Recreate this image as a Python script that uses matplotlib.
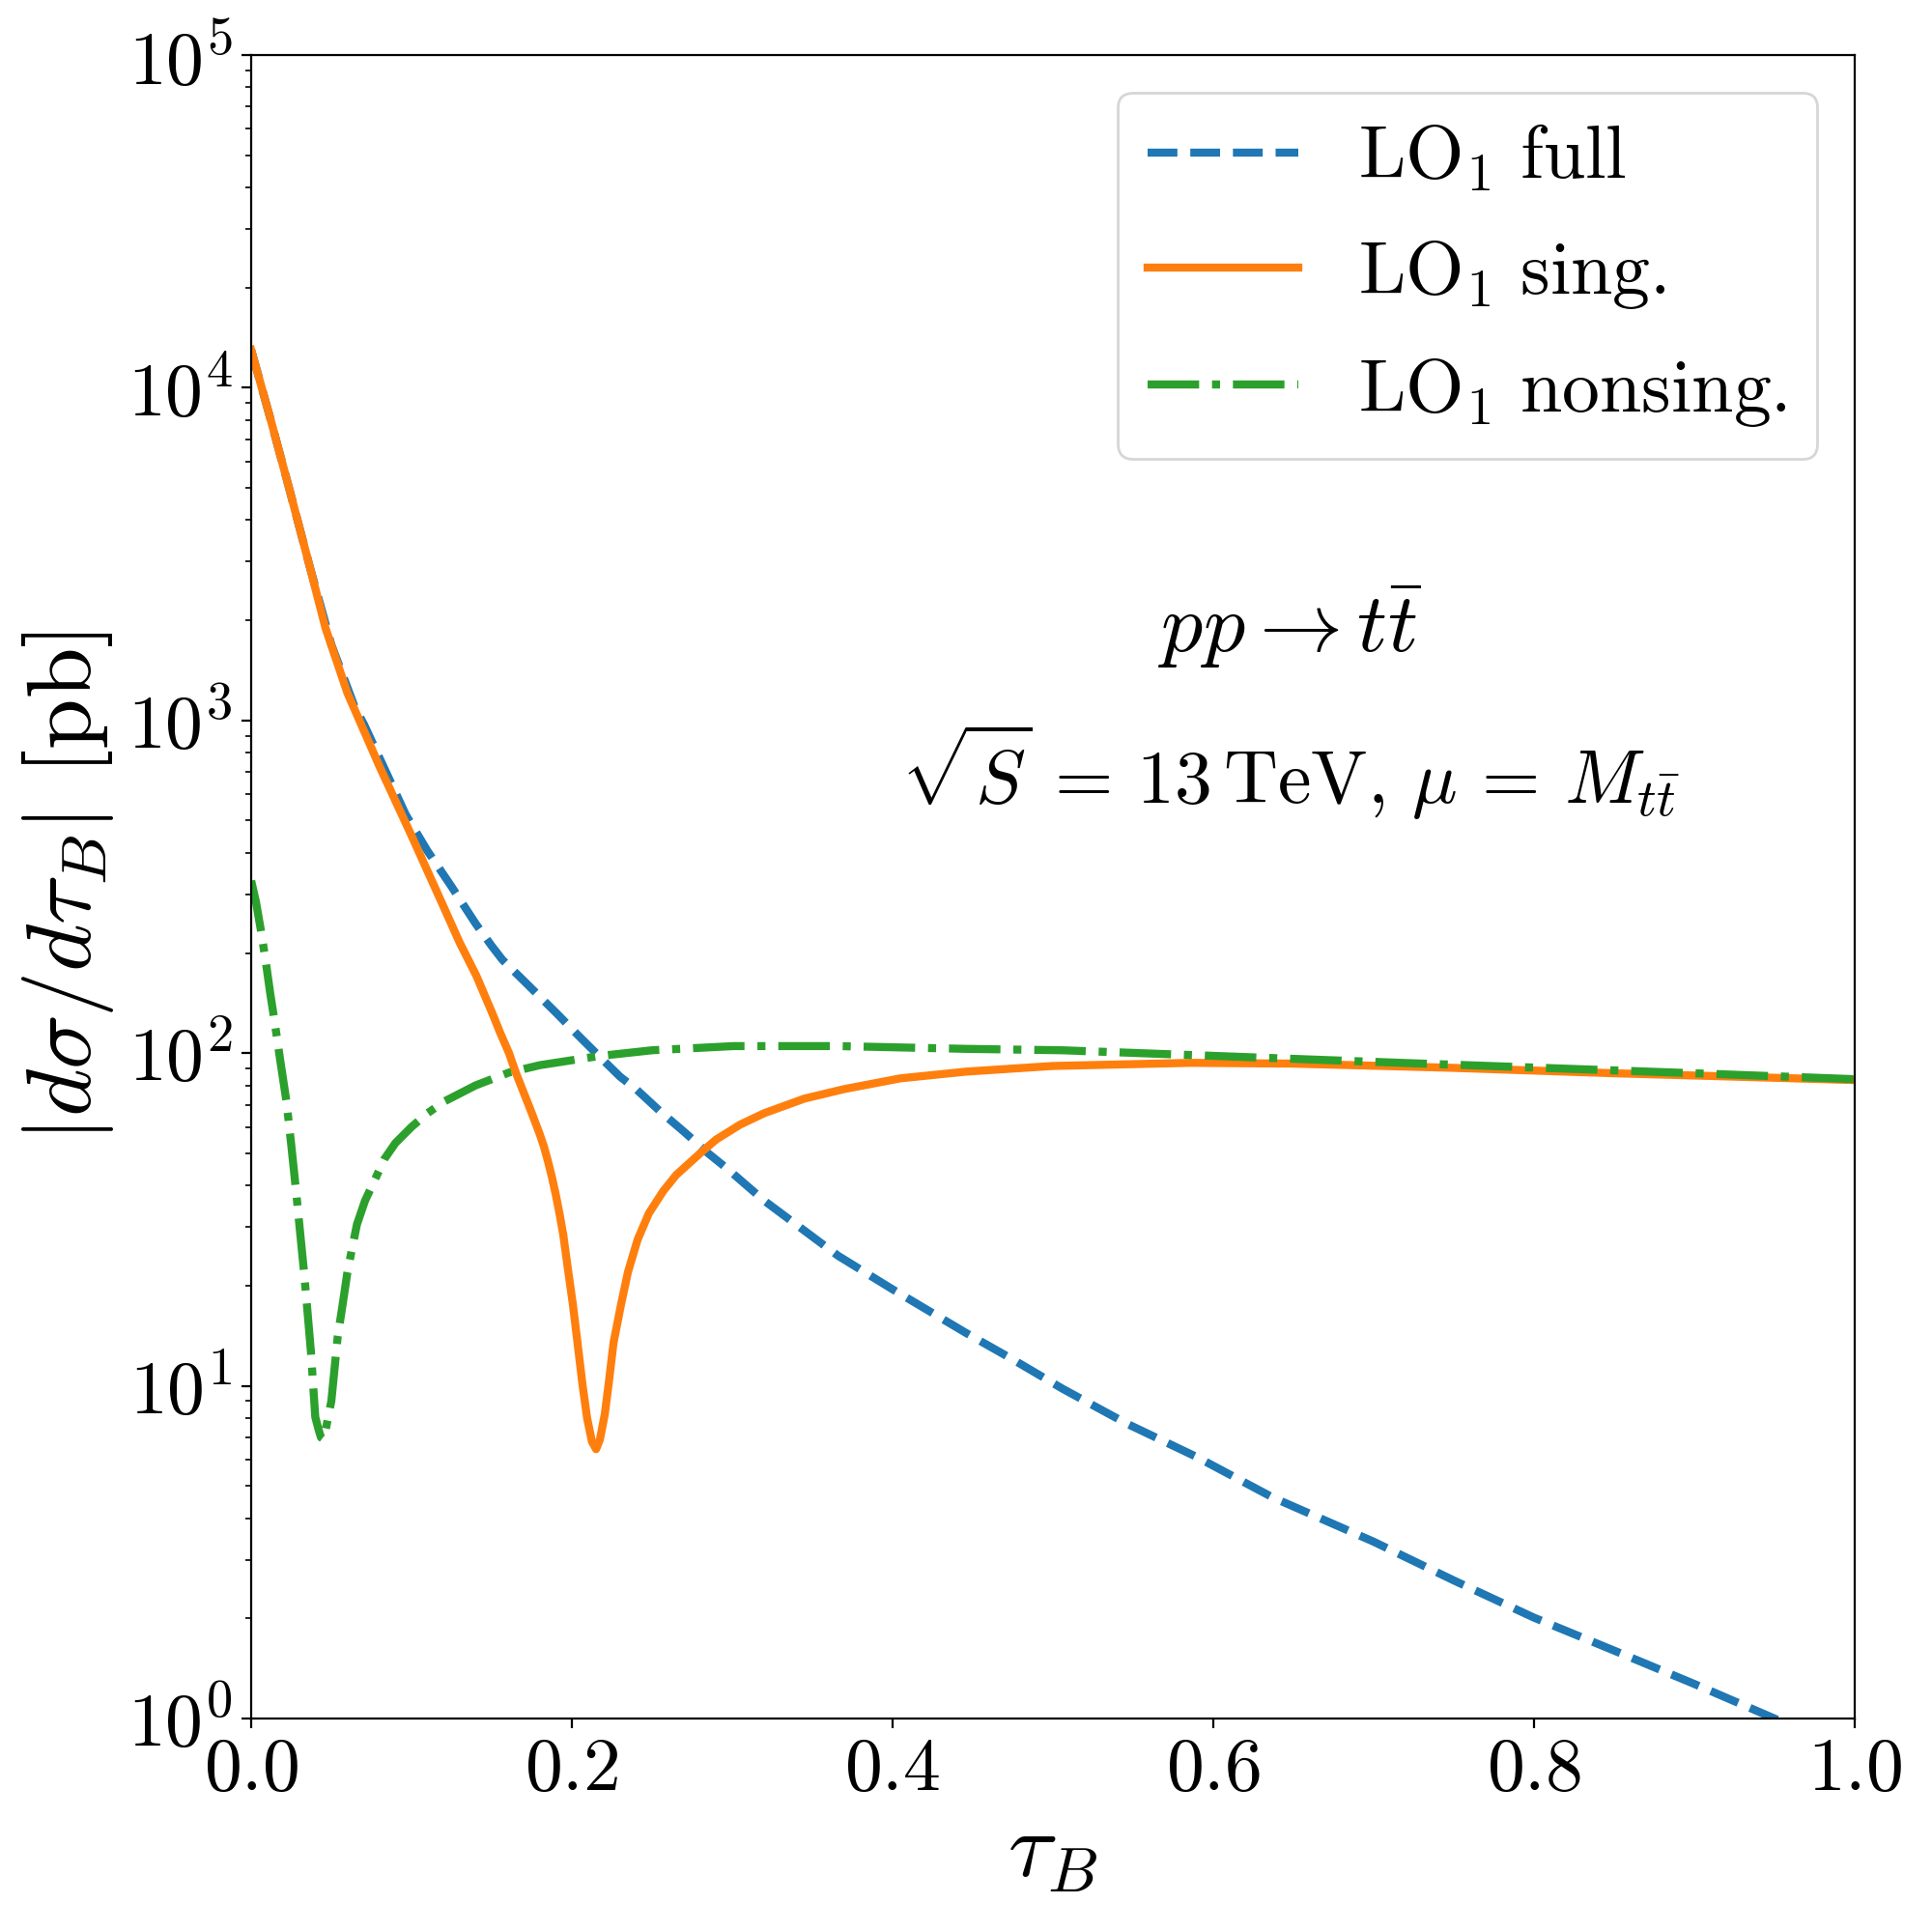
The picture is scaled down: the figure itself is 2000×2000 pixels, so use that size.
import numpy as np
import matplotlib
matplotlib.use("Agg")
import matplotlib.pyplot as plt

plt.rcParams['font.family'] = 'serif'
plt.rcParams['font.serif'] = ['cmr10']
plt.rcParams['mathtext.fontset'] = 'cm'
plt.rcParams['axes.formatter.use_mathtext'] = True

# ------------------ Data ------------------
tau_full = [0.0, 0.012, 0.024, 0.036, 0.050, 0.0645, 0.0705, 0.0964, 0.11, 0.1247,
            0.14, 0.15, 0.1566, 0.17, 0.191, 0.2048, 0.2169, 0.23, 0.24, 0.2548,
            0.27, 0.285, 0.297, 0.32, 0.366, 0.40, 0.446, 0.475, 0.506, 0.546,
            0.59, 0.637, 0.7, 0.75, 0.8, 0.85, 0.9, 0.95, 1.0]
lo1_full = [13000, 8070, 4920, 2965, 1690, 1100, 970, 521, 405, 318,
            245, 210, 191, 165, 131, 112, 98, 85, 78, 67,
            58, 50, 44.9, 36, 24.6, 19.5, 14.4, 12, 9.8, 7.7,
            6.1, 4.62, 3.4, 2.6, 2.01, 1.6, 1.27, 1.0, 0.78]

tau_sing = [0.0, 0.012, 0.024, 0.036, 0.0464, 0.060, 0.080, 0.1006, 0.1205, 0.13,
            0.1404, 0.1506, 0.155, 0.1608, 0.165, 0.170, 0.175, 0.18, 0.1825, 0.185,
            0.1875, 0.19, 0.1925, 0.1946, 0.1975, 0.2006, 0.2035, 0.2066, 0.2095,
            0.2125, 0.2151, 0.2175, 0.2205, 0.2229, 0.226, 0.2307, 0.235, 0.241,
            0.248, 0.257, 0.265, 0.281, 0.29, 0.305, 0.32, 0.345, 0.37, 0.405,
            0.446, 0.5, 0.586, 0.65, 0.747, 0.85, 1.0]
lo1_sing = [13000, 8070, 4920, 2965, 1893, 1210, 728, 444, 272, 215,
            171, 131, 116, 100, 87.5, 76, 66, 57, 52.5, 47.5,
            42.5, 37.5, 32.5, 28.5, 22.5, 17.6, 13.5, 10.1, 8.0,
            6.8, 6.45, 6.9, 8.2, 10.1, 13.5, 17.6, 22, 27.5,
            33, 38.5, 43, 50.5, 55, 61, 66, 73, 78, 84,
            88, 91.5, 93.5, 93, 90.4, 87, 83]

tau_nons = [0.0, 0.003, 0.006, 0.009, 0.012, 0.0139, 0.016, 0.018, 0.022, 0.025,
            0.028, 0.0305, 0.033, 0.035, 0.0373, 0.0385, 0.040, 0.042, 0.0435, 0.0452,
            0.047, 0.050, 0.054, 0.057, 0.060, 0.063, 0.066, 0.071, 0.0765, 0.083,
            0.090, 0.1, 0.11, 0.1205, 0.14, 0.161, 0.18, 0.2169, 0.25, 0.301,
            0.366, 0.446, 0.506, 0.586, 0.717, 0.8, 0.9, 1.0]
lo1_nons = [330, 285, 235, 190, 150, 131, 112, 96, 71.6, 53,
            38.5, 29, 21.9, 17, 12.6, 10.3, 8.05, 7.4, 7.0, 6.9,
            7.6, 9.0, 14.1, 17.5, 21.9, 26, 30.6, 36, 41, 48,
            53.7, 60, 66, 71.6, 80, 87.5, 92, 98, 102, 105,
            105, 103, 102, 98.7, 93.5, 90.5, 87, 83.5]

labels = [r'$\mathrm{LO}_1\ \mathrm{full}$', r'$\mathrm{LO}_1\ \mathrm{sing.}$',
          r'$\mathrm{LO}_1\ \mathrm{nonsing.}$']

# ------------------ Plot ------------------
fig = plt.figure(figsize=(10, 10), dpi=200)
ax = fig.add_axes([0.13, 0.1105, 0.83, 0.861])

ax.plot(tau_full, lo1_full, '--', color='#1f77b4', lw=3, label=labels[0])
ax.plot(tau_sing, lo1_sing, '-', color='#ff7f0e', lw=3, label=labels[1])
ax.plot(tau_nons, lo1_nons, '-.', color='#2ca02c', lw=3, label=labels[2])

ax.set_yscale('log')
ax.set_xlim(0, 1)
ax.set_ylim(1, 1e5)
ax.set_xticks([0.0, 0.2, 0.4, 0.6, 0.8, 1.0])
ax.tick_params(axis='both', which='major', labelsize=28)

ax.set_xlabel(r'$\tau_B$', fontsize=34)
ax.set_ylabel(r'$|d\sigma/d\tau_B|$ [pb]', fontsize=34)

ax.text(0.648, 0.656, r'$pp \to t\bar{t}$', transform=ax.transAxes,
        ha='center', va='center', fontsize=31)
ax.text(0.648, 0.569, r'$\sqrt{S}\,=\,13\,\mathrm{TeV},\, \mu\,=\,M_{t\bar{t}}$',
        transform=ax.transAxes, ha='center', va='center', fontsize=28)

ax.legend(loc='upper right', fontsize=28, labelspacing=0.6)

fig.savefig('out.png', dpi=200)
